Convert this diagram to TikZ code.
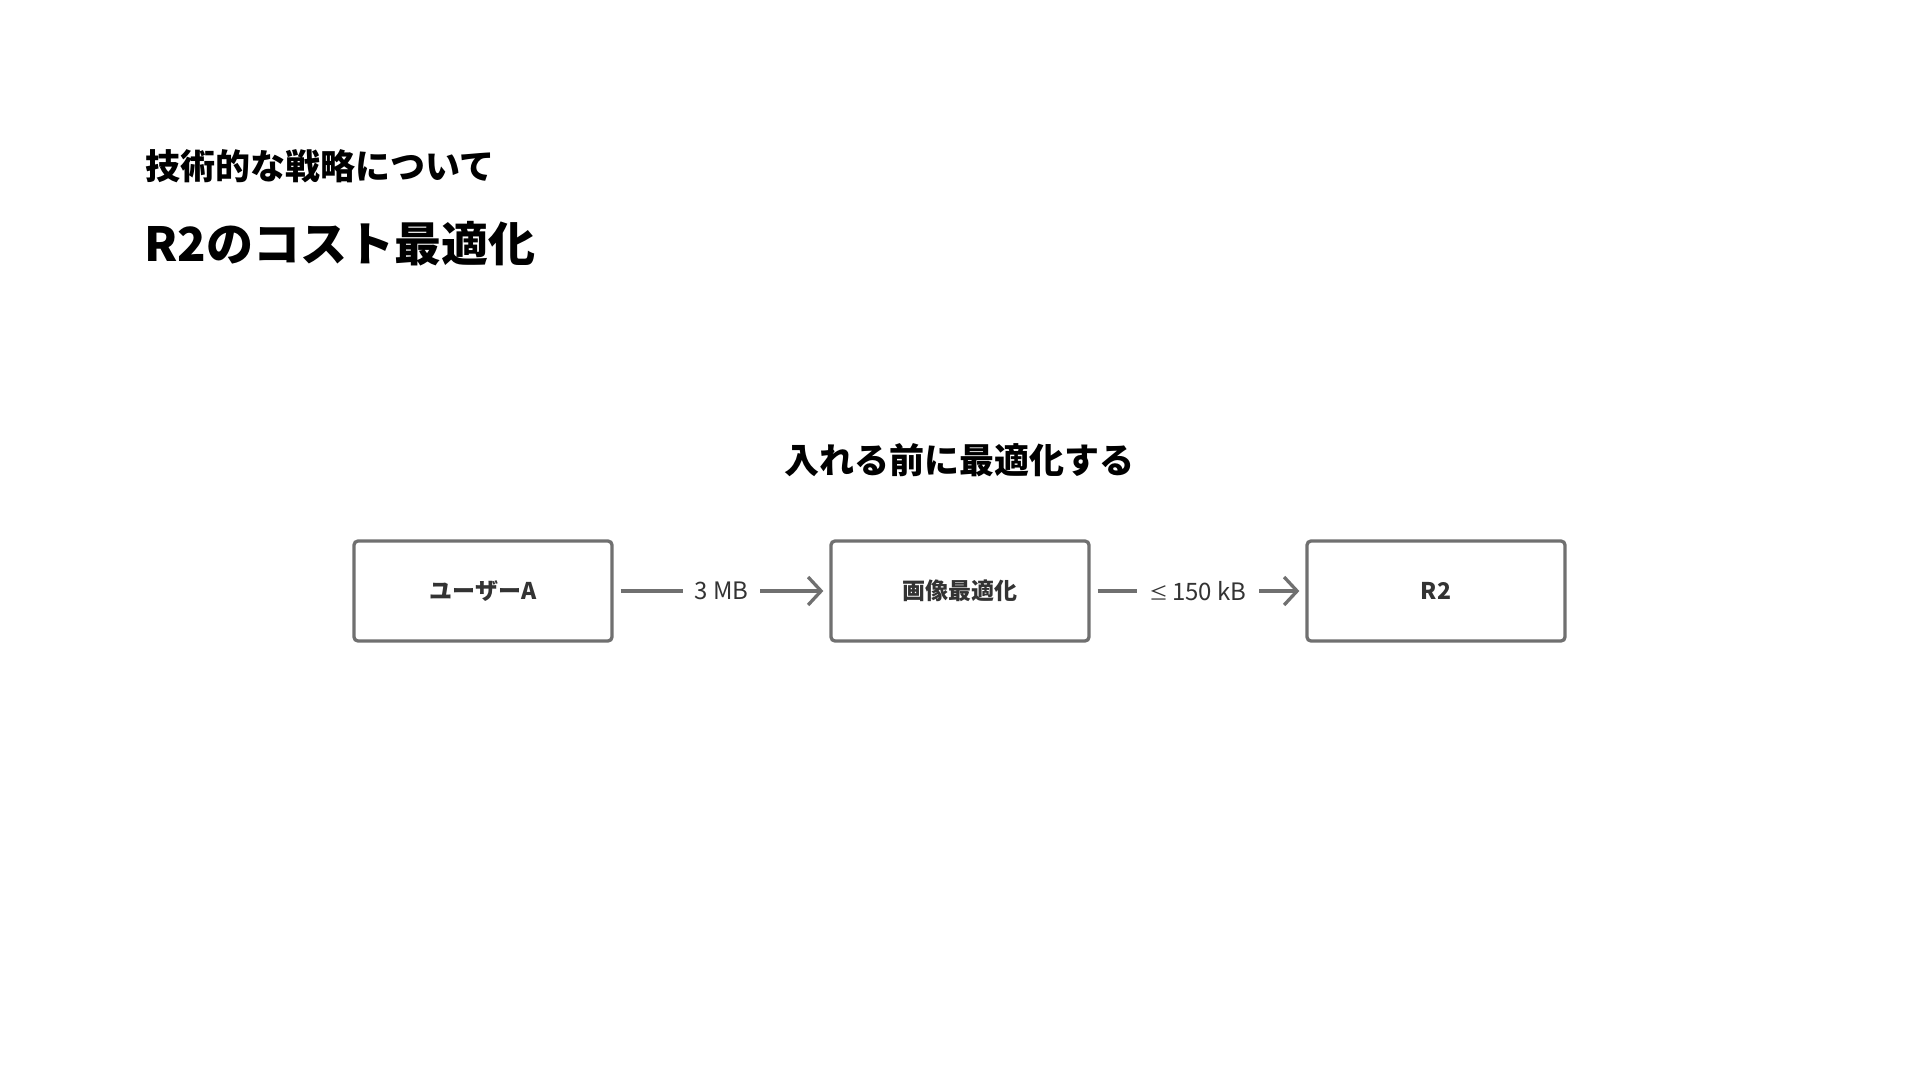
\documentclass[tikz,border=0pt]{standalone}
\usepackage{fontspec}
\setmainfont{Noto Sans CJK JP}
\usetikzlibrary{arrows.meta}
\definecolor{boxgray}{HTML}{707070}
\definecolor{txtdark}{HTML}{333333}
\definecolor{lbl}{HTML}{333333}
\tikzset{
  stepbox/.style={draw=boxgray, line width=3.3pt, rounded corners=4pt, minimum width=258pt, minimum height=100pt, fill=white, text=txtdark, font=\fontsize{23}{23}\selectfont\bfseries, inner sep=0pt},
  flow/.style={draw=boxgray, line width=3.3pt, -{Straight Barb[length=13pt,width=28pt,line width=3.3pt]}, shorten <=7pt, shorten >=6pt},
  edgelabel/.style={fill=white, text=lbl, font=\fontsize{24}{24}\selectfont, inner xsep=12pt, inner ysep=4pt}
}
\begin{document}
\begin{tikzpicture}[x=1pt,y=-1pt]
\useasboundingbox (0,0) rectangle (1920,1080);
\node[anchor=west, inner sep=0pt, font=\fontsize{35}{35}\selectfont\bfseries, text=black] (kicker) at (145,166) {技術的な戦略について};
\node[anchor=west, inner sep=0pt, font=\fontsize{47}{47}\selectfont\bfseries, text=black] (title) at (144,244) {R2のコスト最適化};
\node[inner sep=0pt, font=\fontsize{35}{35}\selectfont\bfseries, text=black] (sub) at (959,460) {入れる前に最適化する};
\node[stepbox] (user) at (483,591) {ユーザーA};
\node[stepbox] (opt) at (960,591) {画像最適化};
\node[stepbox] (r2) at (1436,591) {R2};
\draw[flow] (user) -- node[edgelabel] (l1) {3 MB} (opt);
\draw[flow] (opt) -- node[edgelabel] (l2) {{\fontsize{19}{19}\selectfont ≤}\,150 kB} (r2);
\end{tikzpicture}
\end{document}
